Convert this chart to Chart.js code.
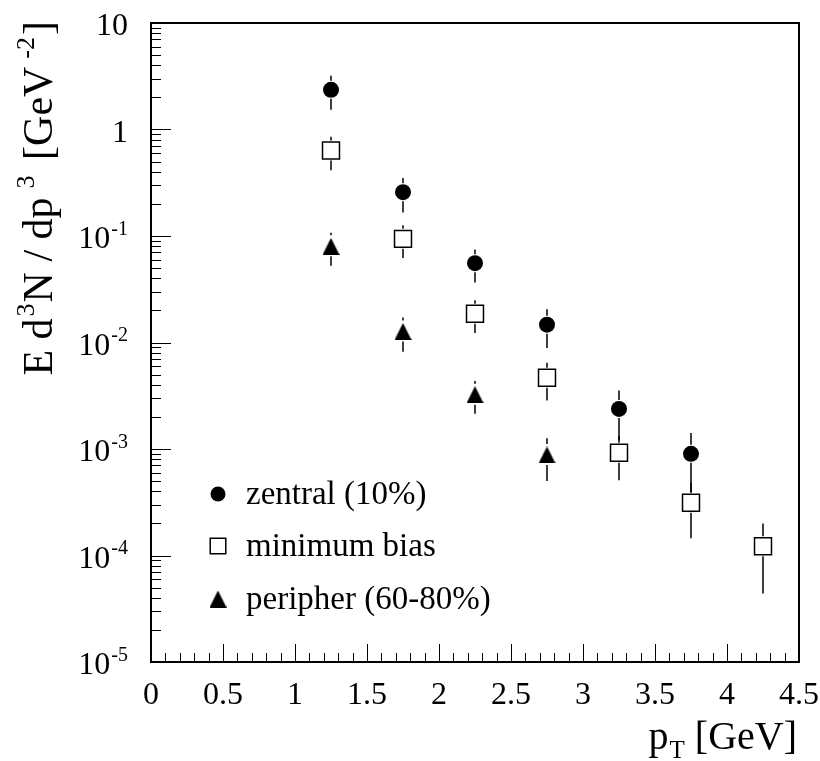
<!DOCTYPE html>
<html>
<head>
<meta charset="utf-8">
<script src="https://cdn.jsdelivr.net/npm/chart.js@4.4.1/dist/chart.umd.min.js"></script>
<style>
  html, body { margin: 0; padding: 0; background: #ffffff; }
  #wrap { width: 820px; height: 761px; position: relative; }
</style>
</head>
<body>
<div id="wrap"><canvas id="c"></canvas></div>
<script>
// Invariant yields E d3N/dp3 vs pT, three centrality classes
const seriesNames = ['zentral (10%)', 'minimum bias', 'peripher (60-80%)'];

const zentralPt    = [1.25, 1.75, 2.25, 2.75, 3.25, 3.75];
const zentralYield = [2.36, 0.258, 0.0556, 0.0147, 0.00238, 0.00090];
const zentralErr   = [0.83, 0.092, 0.019, 0.0058, 0.00117, 0.00051];

const minBiasPt    = [1.25, 1.75, 2.25, 2.75, 3.25, 3.75, 4.25];
const minBiasYield = [0.635, 0.094, 0.0186, 0.00466, 0.00092, 0.000313, 0.000122];
const minBiasErr   = [0.22, 0.032, 0.0063, 0.0018, 0.00041, 0.000168, 0.000078];

const peripherPt    = [1.25, 1.75, 2.25, 2.75];
const peripherYield = [0.080, 0.0127, 0.00324, 0.00088];
const peripherErr   = [0.0274, 0.0045, 0.0011, 0.00038];

const xTickValues = [0, 0.5, 1, 1.5, 2, 2.5, 3, 3.5, 4, 4.5];
const xTickLabels = ['0', '0.5', '1', '1.5', '2', '2.5', '3', '3.5', '4', '4.5'];
const yTickValues = [10, 1, 0.1, 0.01, 0.001, 0.0001, 0.00001];
const yTickBase   = ['10', '1', '10', '10', '10', '10', '10'];
const yTickExp    = ['', '', '-1', '-2', '-3', '-4', '-5'];

const FONT = '"Liberation Serif", "Times New Roman", serif';
const TICK_SIZE = 32, LEGEND_SIZE = 33, TITLE_SIZE = 40, YTITLE_SIZE = 42;

// filled upward triangle, centred on the point
function triangleMarker(size) {
  const cv = document.createElement('canvas');
  cv.width = size; cv.height = size;
  const g = cv.getContext('2d');
  g.fillStyle = '#000';
  g.beginPath();
  g.moveTo(size / 2, 0);
  g.lineTo(size, size);
  g.lineTo(0, size);
  g.closePath();
  g.fill();
  return cv;
}
const tri = triangleMarker(17);

function toPoints(xs, ys, es) {
  return xs.map((x, i) => ({ x: x, y: ys[i], err: es[i] }));
}

const datasets = [
  { label: seriesNames[0], data: toPoints(zentralPt, zentralYield, zentralErr),
    pointStyle: 'circle', pointRadius: 8, backgroundColor: '#000', borderColor: '#000',
    borderWidth: 0, gapUp: 9, gapDown: 9 },
  { label: seriesNames[1], data: toPoints(minBiasPt, minBiasYield, minBiasErr),
    pointStyle: 'rect', pointRadius: 12, backgroundColor: '#fff', borderColor: '#000',
    borderWidth: 1.5, gapUp: 10, gapDown: 10 },
  { label: seriesNames[2], data: toPoints(peripherPt, peripherYield, peripherErr),
    pointStyle: tri, pointRadius: 8, backgroundColor: '#000', borderColor: '#000',
    borderWidth: 0, gapUp: 11, gapDown: 10 }
];

// text with super/subscripts: parts = [[text, shift, gapBefore]], shift 1 = sup, -1 = sub
function partFont(base, k) { return (k ? Math.round(base * 0.62) : base) + 'px ' + FONT; }
function richWidth(ctx, parts, base) {
  let w = 0;
  for (const [t, k, gap] of parts) { ctx.font = partFont(base, k); w += ctx.measureText(t).width + (gap || 0); }
  return w;
}
function drawRich(ctx, parts, x, y, base) {
  ctx.textAlign = 'left'; ctx.textBaseline = 'alphabetic';
  for (const [t, k, gap] of parts) {
    x += (gap || 0);
    ctx.font = partFont(base, k);
    const dy = k === 1 ? -base * 0.42 : (k === -1 ? base * 0.22 : 0);
    ctx.fillText(t, x, y + dy);
    x += ctx.measureText(t).width;
  }
}

const errorBars = {
  id: 'errorBars',
  beforeDatasetsDraw(chart) {
    const ctx = chart.ctx, ys = chart.scales.y;
    ctx.save();
    ctx.strokeStyle = '#000'; ctx.lineWidth = 1.5;
    chart.data.datasets.forEach((ds, di) => {
      const meta = chart.getDatasetMeta(di);
      meta.data.forEach((el, i) => {
        const p = ds.data[i];
        const yc = el.y;
        const yHi = ys.getPixelForValue(p.y + p.err);
        const yLo = ys.getPixelForValue(Math.max(p.y - p.err, 1e-9));
        ctx.beginPath();
        if (yHi < yc - ds.gapUp) { ctx.moveTo(el.x, yHi); ctx.lineTo(el.x, yc - ds.gapUp); }
        if (yLo > yc + ds.gapDown) { ctx.moveTo(el.x, yc + ds.gapDown); ctx.lineTo(el.x, Math.min(yLo, chart.chartArea.bottom)); }
        ctx.stroke();
      });
    });
    ctx.restore();
  }
};

const frameAxes = {
  id: 'frameAxes',
  afterDraw(chart) {
    const ctx = chart.ctx, xs = chart.scales.x, ys = chart.scales.y;
    const { left, right, top, bottom } = chart.chartArea;
    ctx.save();
    // tick marks on the left and bottom edges, pointing inward
    ctx.strokeStyle = '#000'; ctx.lineWidth = 1;
    ctx.beginPath();
    for (let k = 0; k <= 45; k++) {
      const px = Math.round(xs.getPixelForValue(k / 10)) + 0.5;
      const len = k % 5 === 0 ? 18 : 9;
      ctx.moveTo(px, bottom); ctx.lineTo(px, bottom - len);
    }
    for (let d = -5; d <= 0; d++) {
      for (let m = 1; m <= 10; m++) {
        const v = m * Math.pow(10, d);
        const py = Math.round(ys.getPixelForValue(v)) + 0.5;
        const len = (m === 1 || m === 10) ? 20 : 10;
        ctx.moveTo(left, py); ctx.lineTo(left + len, py);
      }
    }
    ctx.stroke();
    // frame
    ctx.lineWidth = 2;
    ctx.strokeRect(left, top, right - left, bottom - top);

    // tick labels
    ctx.fillStyle = '#000';
    ctx.font = TICK_SIZE + 'px ' + FONT;
    ctx.textAlign = 'center'; ctx.textBaseline = 'alphabetic';
    xTickValues.forEach((v, i) => ctx.fillText(xTickLabels[i], xs.getPixelForValue(v), 704));
    yTickValues.forEach((v, i) => {
      const parts = [[yTickBase[i], 0]];
      if (yTickExp[i]) parts.push([yTickExp[i], 1, 1]);
      const w = richWidth(ctx, parts, TICK_SIZE);
      const py = ys.getPixelForValue(v);
      drawRich(ctx, parts, 128 - w, py + 12, TICK_SIZE);
    });

    // axis titles
    const xt = [['p', 0], ['T', -1, 1], [' [GeV]', 0]];
    const wx = richWidth(ctx, xt, TITLE_SIZE);
    drawRich(ctx, xt, 797 - wx, 749, TITLE_SIZE);

    const yt = [['E d', 0], ['3', 1, 2], ['N / dp', 0, 1], ['3', 1, 9], [' [GeV', 0, 5], ['-2', 1, 8], [']', 0, 2]];
    const wy = richWidth(ctx, yt, YTITLE_SIZE);
    ctx.save();
    ctx.translate(52, 0);
    ctx.rotate(-Math.PI / 2);
    drawRich(ctx, yt, -21 - wy, 0, YTITLE_SIZE);
    ctx.restore();

    // legend inside the frame
    const rows = [494, 546, 599];
    chart.data.datasets.forEach((ds, di) => {
      ctx.save();
      ctx.fillStyle = ds.backgroundColor; ctx.strokeStyle = ds.borderColor;
      ctx.lineWidth = ds.borderWidth;
      Chart.helpers.drawPoint(ctx, { pointStyle: ds.pointStyle, radius: ds.pointStyle === 'rect' ? 11 : 7.5,
        borderWidth: ds.borderWidth, rotation: 0 }, 218, rows[di]);
      ctx.restore();
      ctx.fillStyle = '#000';
      ctx.font = LEGEND_SIZE + 'px ' + FONT;
      ctx.textAlign = 'left'; ctx.textBaseline = 'middle';
      ctx.fillText(ds.label, 246, rows[di] + 1);
    });
    ctx.restore();
  }
};

new Chart(document.getElementById('c'), {
  type: 'scatter',
  data: { datasets: datasets },
  options: {
    responsive: true,
    maintainAspectRatio: false,
    animation: false,
    layout: { padding: { left: 151, right: 21, top: 23, bottom: 99 } },
    plugins: { legend: { display: false }, tooltip: { enabled: false } },
    scales: {
      x: { type: 'linear', min: 0, max: 4.5, display: false },
      y: { type: 'logarithmic', min: 1e-5, max: 10, display: false }
    }
  },
  plugins: [errorBars, frameAxes]
});
</script>
</body>
</html>
